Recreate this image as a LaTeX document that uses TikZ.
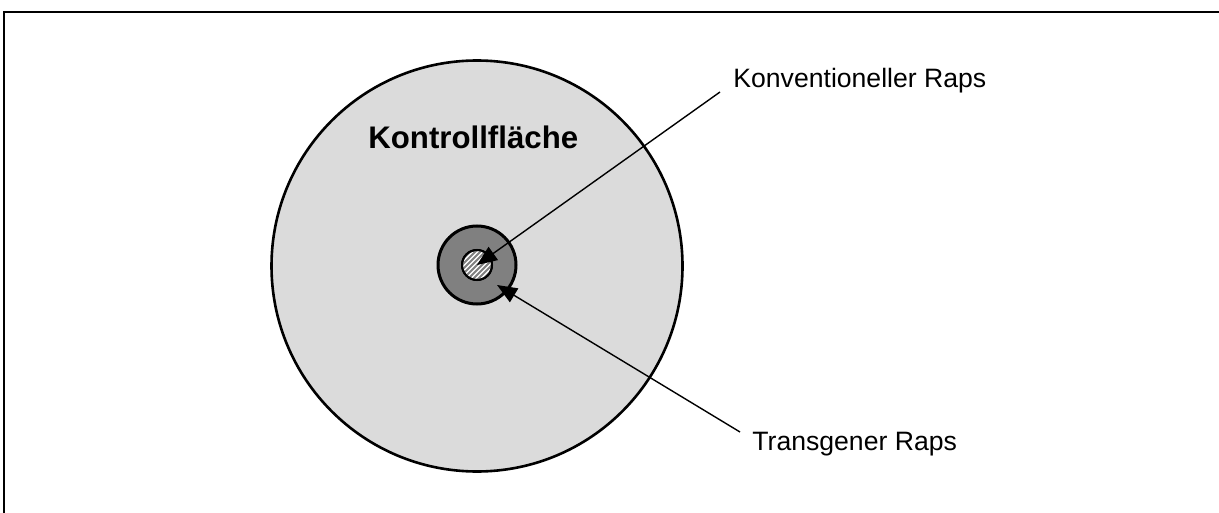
\documentclass[tikz,border=0pt]{standalone}
\usepackage{fontspec}
\setmainfont{Liberation Sans}
\usetikzlibrary{arrows.meta}

\begin{document}
\begin{tikzpicture}[x=0.5pt, y=-0.5pt,
    every node/.style={font=\fontsize{13.3}{16}\selectfont},
    feld/.style={draw, circle, line width=1.3pt, inner sep=0pt},
    pfeil/.style={line width=0.7pt, -{Triangle[length=10pt, width=8pt]}}]
    \useasboundingbox (0,0) rectangle (1219,513);

    % Rahmen
    \draw[line width=1.2pt] (4,513) -- (4,12) -- (1219,12);

    % Flächen
    \node[feld, fill=black!14, minimum size=205.5pt] (ctrl) at (477,266) {};
    \node[feld, fill=black!50, minimum size=39pt, line width=1.5pt] (gmraps) at (477,265) {};
    \node[feld, fill=white, minimum size=15pt, line width=1pt] (konv) at (477,265) {};
    % Schraffur
    \begin{scope}
        \clip (konv.center) circle[radius=7.5pt];
        \foreach \d in {-30,-25,...,30}
            \draw[black!50, line width=1pt] ([shift={(\d-20,20)}]konv.center) -- ([shift={(\d+20,-20)}]konv.center);
    \end{scope}
    \draw[line width=1pt] (konv.center) circle[radius=7.5pt];

    % Beschriftungen
    \node[font=\fontsize{15.6}{18}\selectfont\bfseries, anchor=base west, inner sep=0pt] (ctrllabel) at (368,149) {Kontrollfläche};
    \node[anchor=base west, inner sep=0pt] (konvlabel) at (733,88) {Konventioneller Raps};
    \node[anchor=base west, inner sep=0pt] (gmlabel) at (752,450) {Transgener Raps};

    % Pfeile
    \coordinate (k1) at (720,92);
    \coordinate (t1) at (740,432);
    \coordinate (t2) at (497,285);
    \draw[pfeil] (k1) -- (konv.center);
    \draw[pfeil] (t1) -- (t2);
\end{tikzpicture}
\end{document}
